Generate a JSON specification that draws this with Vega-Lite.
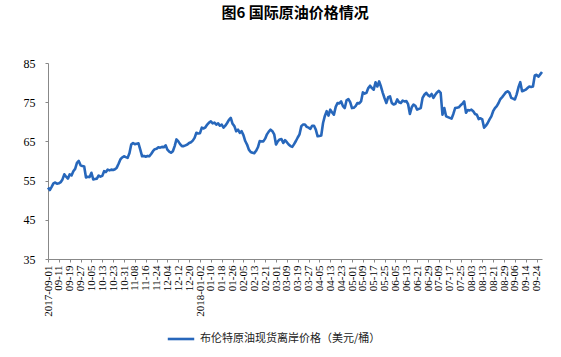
{
  "$schema": "https://vega.github.io/schema/vega-lite/v6.json",
  "autosize": "none",
  "width": 494,
  "height": 196,
  "padding": {"left": 48, "top": 63, "right": 19, "bottom": 98},
  "background": "white",
  "title": {"text": "图6  国际原油价格情况", "font": "Noto Sans CJK SC", "fontSize": 15, "fontWeight": "bold", "color": "#000000", "anchor": "middle", "offset": 36},
  "data": {"values": [
    {"d":"2017-09-01","v":53.2},{"d":"2017-09-04","v":52.6},{"d":"2017-09-05","v":53.4},{"d":"2017-09-06","v":54.3},{"d":"2017-09-07","v":54.5},{"d":"2017-09-08","v":54.2},
    {"d":"2017-09-11","v":54.3},{"d":"2017-09-12","v":54.6},{"d":"2017-09-13","v":55.3},{"d":"2017-09-14","v":56.6},{"d":"2017-09-15","v":56.0},{"d":"2017-09-18","v":55.5},
    {"d":"2017-09-19","v":56.6},{"d":"2017-09-20","v":56.3},{"d":"2017-09-21","v":57.4},{"d":"2017-09-22","v":58.0},{"d":"2017-09-25","v":59.5},{"d":"2017-09-26","v":60.0},
    {"d":"2017-09-27","v":58.9},{"d":"2017-09-28","v":58.7},{"d":"2017-09-29","v":58.6},{"d":"2017-10-02","v":55.8},{"d":"2017-10-03","v":56.0},{"d":"2017-10-04","v":55.9},
    {"d":"2017-10-05","v":57.0},{"d":"2017-10-06","v":55.3},{"d":"2017-10-09","v":55.4},{"d":"2017-10-10","v":55.5},{"d":"2017-10-11","v":56.3},{"d":"2017-10-12","v":56.0},
    {"d":"2017-10-13","v":56.2},{"d":"2017-10-16","v":57.4},{"d":"2017-10-17","v":57.2},{"d":"2017-10-18","v":57.8},{"d":"2017-10-19","v":57.6},{"d":"2017-10-20","v":57.8},
    {"d":"2017-10-23","v":57.7},{"d":"2017-10-24","v":57.9},{"d":"2017-10-25","v":58.3},{"d":"2017-10-26","v":59.3},{"d":"2017-10-27","v":60.4},{"d":"2017-10-30","v":60.9},
    {"d":"2017-10-31","v":61.2},{"d":"2017-11-01","v":61.0},{"d":"2017-11-02","v":60.8},{"d":"2017-11-03","v":62.0},{"d":"2017-11-06","v":64.2},{"d":"2017-11-07","v":64.6},
    {"d":"2017-11-08","v":64.3},{"d":"2017-11-09","v":64.4},{"d":"2017-11-10","v":64.5},{"d":"2017-11-13","v":62.9},{"d":"2017-11-14","v":61.2},{"d":"2017-11-15","v":61.3},
    {"d":"2017-11-16","v":61.1},{"d":"2017-11-17","v":61.3},{"d":"2017-11-20","v":61.2},{"d":"2017-11-21","v":61.8},{"d":"2017-11-22","v":62.5},{"d":"2017-11-23","v":63.0},
    {"d":"2017-11-24","v":63.1},{"d":"2017-11-27","v":63.5},{"d":"2017-11-28","v":63.4},{"d":"2017-11-29","v":63.6},{"d":"2017-11-30","v":63.5},{"d":"2017-12-01","v":64.0},
    {"d":"2017-12-04","v":62.9},{"d":"2017-12-05","v":62.4},{"d":"2017-12-06","v":62.1},{"d":"2017-12-07","v":62.5},{"d":"2017-12-08","v":63.8},{"d":"2017-12-11","v":65.5},
    {"d":"2017-12-12","v":65.0},{"d":"2017-12-13","v":64.3},{"d":"2017-12-14","v":63.8},{"d":"2017-12-15","v":63.8},{"d":"2017-12-18","v":64.0},{"d":"2017-12-19","v":64.2},
    {"d":"2017-12-20","v":64.6},{"d":"2017-12-21","v":64.8},{"d":"2017-12-22","v":65.2},{"d":"2017-12-27","v":65.9},{"d":"2017-12-28","v":67.2},{"d":"2017-12-29","v":67.0},
    {"d":"2018-01-02","v":67.1},{"d":"2018-01-03","v":68.5},{"d":"2018-01-04","v":68.3},{"d":"2018-01-05","v":68.6},{"d":"2018-01-08","v":69.3},{"d":"2018-01-09","v":69.8},
    {"d":"2018-01-10","v":70.1},{"d":"2018-01-11","v":69.6},{"d":"2018-01-12","v":69.8},{"d":"2018-01-15","v":69.3},{"d":"2018-01-16","v":69.6},{"d":"2018-01-17","v":69.0},
    {"d":"2018-01-18","v":69.3},{"d":"2018-01-19","v":68.5},{"d":"2018-01-22","v":69.0},{"d":"2018-01-23","v":69.7},{"d":"2018-01-24","v":70.5},{"d":"2018-01-25","v":71.0},
    {"d":"2018-01-26","v":69.5},{"d":"2018-01-29","v":68.9},{"d":"2018-01-30","v":67.6},{"d":"2018-01-31","v":68.0},{"d":"2018-02-01","v":67.2},{"d":"2018-02-02","v":67.6},
    {"d":"2018-02-05","v":66.6},{"d":"2018-02-06","v":65.1},{"d":"2018-02-07","v":64.2},{"d":"2018-02-08","v":62.9},{"d":"2018-02-09","v":62.3},{"d":"2018-02-12","v":62.1},
    {"d":"2018-02-13","v":62.0},{"d":"2018-02-14","v":62.6},{"d":"2018-02-15","v":63.5},{"d":"2018-02-16","v":65.1},{"d":"2018-02-19","v":65.0},{"d":"2018-02-20","v":65.0},
    {"d":"2018-02-21","v":65.7},{"d":"2018-02-22","v":66.8},{"d":"2018-02-23","v":67.5},{"d":"2018-02-26","v":68.0},{"d":"2018-02-27","v":67.6},{"d":"2018-02-28","v":66.8},
    {"d":"2018-03-01","v":64.2},{"d":"2018-03-02","v":65.0},{"d":"2018-03-05","v":65.5},{"d":"2018-03-06","v":65.6},{"d":"2018-03-07","v":64.6},{"d":"2018-03-08","v":65.3},
    {"d":"2018-03-09","v":64.8},{"d":"2018-03-12","v":64.2},{"d":"2018-03-13","v":63.8},{"d":"2018-03-14","v":63.6},{"d":"2018-03-15","v":64.3},{"d":"2018-03-16","v":65.1},
    {"d":"2018-03-19","v":66.0},{"d":"2018-03-20","v":66.8},{"d":"2018-03-21","v":68.9},{"d":"2018-03-22","v":69.3},{"d":"2018-03-23","v":69.3},{"d":"2018-03-26","v":68.7},
    {"d":"2018-03-27","v":68.5},{"d":"2018-03-28","v":68.2},{"d":"2018-03-29","v":69.0},{"d":"2018-04-02","v":69.0},{"d":"2018-04-03","v":68.0},{"d":"2018-04-04","v":66.3},
    {"d":"2018-04-05","v":66.4},{"d":"2018-04-06","v":66.5},{"d":"2018-04-09","v":69.7},{"d":"2018-04-10","v":71.5},{"d":"2018-04-11","v":72.7},{"d":"2018-04-12","v":71.6},
    {"d":"2018-04-13","v":73.1},{"d":"2018-04-16","v":72.4},{"d":"2018-04-17","v":71.8},{"d":"2018-04-18","v":73.8},{"d":"2018-04-19","v":74.8},{"d":"2018-04-20","v":74.7},
    {"d":"2018-04-23","v":75.2},{"d":"2018-04-24","v":74.0},{"d":"2018-04-25","v":73.5},{"d":"2018-04-26","v":75.5},{"d":"2018-04-27","v":75.8},{"d":"2018-04-30","v":75.0},
    {"d":"2018-05-01","v":73.5},{"d":"2018-05-02","v":73.6},{"d":"2018-05-03","v":74.0},{"d":"2018-05-04","v":74.8},{"d":"2018-05-07","v":74.7},{"d":"2018-05-08","v":75.2},
    {"d":"2018-05-09","v":77.5},{"d":"2018-05-10","v":77.2},{"d":"2018-05-11","v":77.4},{"d":"2018-05-14","v":78.6},{"d":"2018-05-15","v":79.2},{"d":"2018-05-16","v":78.6},
    {"d":"2018-05-17","v":78.2},{"d":"2018-05-18","v":80.1},{"d":"2018-05-21","v":79.0},{"d":"2018-05-22","v":80.3},{"d":"2018-05-23","v":79.0},{"d":"2018-05-24","v":77.4},
    {"d":"2018-05-25","v":76.0},{"d":"2018-05-29","v":74.8},{"d":"2018-05-30","v":76.3},{"d":"2018-05-31","v":76.5},{"d":"2018-06-01","v":74.8},{"d":"2018-06-04","v":74.4},
    {"d":"2018-06-05","v":74.6},{"d":"2018-06-06","v":75.7},{"d":"2018-06-07","v":75.0},{"d":"2018-06-08","v":74.8},{"d":"2018-06-11","v":75.4},{"d":"2018-06-12","v":75.2},
    {"d":"2018-06-13","v":75.3},{"d":"2018-06-14","v":74.5},{"d":"2018-06-15","v":72.0},{"d":"2018-06-18","v":73.7},{"d":"2018-06-19","v":74.4},{"d":"2018-06-20","v":74.1},
    {"d":"2018-06-21","v":73.1},{"d":"2018-06-22","v":73.3},{"d":"2018-06-25","v":73.5},{"d":"2018-06-26","v":76.1},{"d":"2018-06-27","v":76.9},{"d":"2018-06-28","v":77.4},
    {"d":"2018-06-29","v":76.8},{"d":"2018-07-02","v":76.5},{"d":"2018-07-03","v":77.1},{"d":"2018-07-04","v":76.1},{"d":"2018-07-05","v":76.9},{"d":"2018-07-06","v":77.5},
    {"d":"2018-07-09","v":77.9},{"d":"2018-07-10","v":77.4},{"d":"2018-07-11","v":71.8},{"d":"2018-07-12","v":73.5},{"d":"2018-07-13","v":71.4},{"d":"2018-07-16","v":71.2},
    {"d":"2018-07-17","v":71.0},{"d":"2018-07-18","v":70.8},{"d":"2018-07-19","v":72.0},{"d":"2018-07-20","v":73.5},{"d":"2018-07-23","v":73.6},{"d":"2018-07-24","v":73.7},
    {"d":"2018-07-25","v":74.2},{"d":"2018-07-26","v":74.6},{"d":"2018-07-27","v":75.2},{"d":"2018-07-31","v":72.3},{"d":"2018-08-01","v":73.0},{"d":"2018-08-02","v":72.9},
    {"d":"2018-08-03","v":73.1},{"d":"2018-08-06","v":72.7},{"d":"2018-08-07","v":72.0},{"d":"2018-08-08","v":71.8},{"d":"2018-08-09","v":70.7},{"d":"2018-08-10","v":70.9},
    {"d":"2018-08-13","v":70.6},{"d":"2018-08-14","v":68.5},{"d":"2018-08-15","v":69.0},{"d":"2018-08-16","v":69.7},{"d":"2018-08-17","v":70.6},{"d":"2018-08-20","v":71.4},
    {"d":"2018-08-21","v":72.7},{"d":"2018-08-22","v":73.5},{"d":"2018-08-23","v":74.0},{"d":"2018-08-24","v":74.8},{"d":"2018-08-27","v":75.8},{"d":"2018-08-28","v":76.3},
    {"d":"2018-08-29","v":76.9},{"d":"2018-08-30","v":77.5},{"d":"2018-08-31","v":77.8},{"d":"2018-09-03","v":77.4},{"d":"2018-09-04","v":76.1},{"d":"2018-09-05","v":75.9},
    {"d":"2018-09-06","v":75.7},{"d":"2018-09-07","v":77.0},{"d":"2018-09-10","v":78.8},{"d":"2018-09-11","v":80.1},{"d":"2018-09-12","v":77.8},{"d":"2018-09-13","v":78.0},
    {"d":"2018-09-14","v":78.2},{"d":"2018-09-17","v":78.6},{"d":"2018-09-18","v":79.0},{"d":"2018-09-19","v":78.9},{"d":"2018-09-20","v":79.0},{"d":"2018-09-21","v":81.8},
    {"d":"2018-09-24","v":82.0},{"d":"2018-09-25","v":81.5},{"d":"2018-09-26","v":82.1},{"d":"2018-09-27","v":82.7}
  ]},
  "mark": {"type": "line", "strokeWidth": 2.6, "strokeJoin": "round"},
  "encoding": {
    "x": {
      "field": "d", "type": "ordinal",
      "scale": {"type": "point", "padding": 0},
      "axis": {
        "title": null,
        "values": ["2017-09-01","2017-09-11","2017-09-19","2017-09-27","2017-10-05","2017-10-13","2017-10-23","2017-10-31","2017-11-08","2017-11-16","2017-11-24","2017-12-04","2017-12-12","2017-12-20","2018-01-02","2018-01-10","2018-01-18","2018-01-26","2018-02-05","2018-02-13","2018-02-21","2018-03-01","2018-03-09","2018-03-19","2018-03-27","2018-04-05","2018-04-13","2018-04-23","2018-05-01","2018-05-09","2018-05-17","2018-05-25","2018-06-05","2018-06-13","2018-06-21","2018-06-29","2018-07-09","2018-07-17","2018-07-25","2018-08-03","2018-08-13","2018-08-21","2018-08-29","2018-09-06","2018-09-14","2018-09-24"],
        "labelExpr": "(datum.value == '2017-09-01' || datum.value == '2018-01-02') ? datum.value : substring(datum.value, 5)",
        "labelAngle": 270,
        "labelFont": "Liberation Serif",
        "labelFontSize": 11,
        "labelColor": "#000000",
        "labelPadding": 3,
        "tickSize": 3,
        "tickColor": "#888888",
        "domainColor": "#888888",
        "grid": false
      }
    },
    "y": {
      "field": "v", "type": "quantitative",
      "scale": {"domain": [35, 85], "nice": false, "zero": false},
      "axis": {
        "title": null,
        "values": [35, 45, 55, 65, 75, 85],
        "labelFont": "Liberation Serif",
        "labelFontSize": 12,
        "labelColor": "#000000",
        "labelPadding": 10,
        "tickSize": 3,
        "tickColor": "#888888",
        "domainColor": "#888888",
        "grid": false
      }
    },
    "color": {
      "datum": "布伦特原油现货离岸价格（美元/桶）",
      "scale": {"range": ["#2767bb"]},
      "legend": {
        "title": null,
        "orient": "none",
        "legendX": 118,
        "legendY": 261,
        "direction": "horizontal",
        "symbolType": "stroke",
        "symbolSize": 700,
        "symbolStrokeWidth": 2.6,
        "labelFont": "Noto Sans CJK SC",
        "labelFontSize": 11,
        "labelLimit": 400,
        "labelColor": "#222222"
      }
    }
  },
  "config": {"view": {"stroke": null}}
}
